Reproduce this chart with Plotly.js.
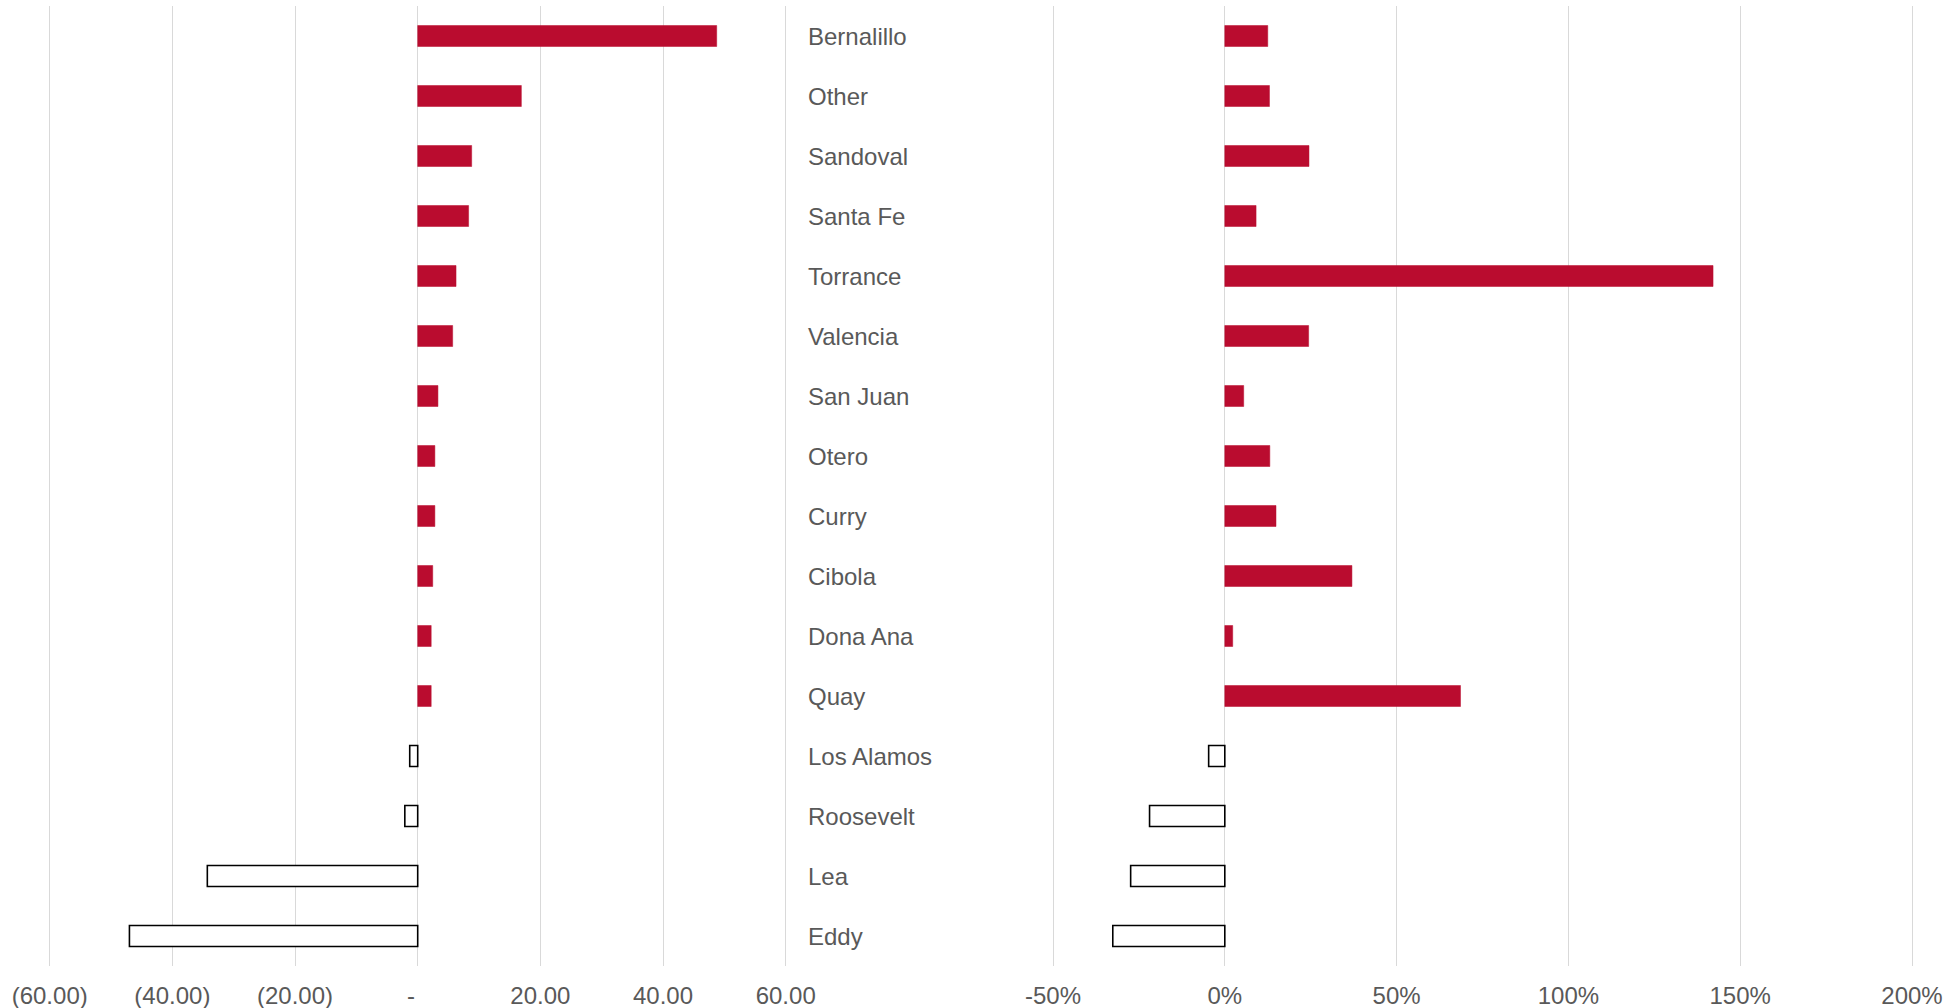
<!DOCTYPE html>
<html>
<head>
<meta charset="utf-8">
<script src="https://cdn.plot.ly/plotly-3.0.1.min.js"></script>
<style>html,body{margin:0;padding:0;background:#fff;}#chart{width:1959px;height:1008px;}</style>
</head>
<body>
<div id="chart"></div>
<script>
const counties = ["Bernalillo","Other","Sandoval","Santa Fe","Torrance","Valencia","San Juan","Otero","Curry","Cibola","Dona Ana","Quay","Los Alamos","Roosevelt","Lea","Eddy"];
const changeValues = [48.75, 16.9, 8.8, 8.3, 6.25, 5.7, 3.3, 2.8, 2.8, 2.45, 2.2, 2.2, -1.3, -2.1, -34.3, -47.0];
const pctValues = [0.125, 0.130, 0.245, 0.091, 1.421, 0.244, 0.055, 0.131, 0.149, 0.370, 0.023, 0.686, -0.047, -0.219, -0.274, -0.326];
const leftTickVals = [-60, -40, -20, 0, 20, 40, 60];
const leftTickText = ["(60.00)", "(40.00)", "(20.00)", "-\u00a0\u00a0", "20.00", "40.00", "60.00"];
const rightTickVals = [-0.5, 0, 0.5, 1.0, 1.5, 2.0];
const rightTickText = ["-50%", "0%", "50%", "100%", "150%", "200%"];

const RED = "#BA0C2F";
const fillFor = v => v >= 0 ? RED : "#FFFFFF";
const lineFor = v => v >= 0 ? RED : "#000000";

const traces = [
  {
    type: "bar", orientation: "h", x: changeValues, y: counties,
    xaxis: "x", yaxis: "y", width: 0.35,
    marker: {color: changeValues.map(fillFor), line: {color: changeValues.map(lineFor), width: changeValues.map(v => v >= 0 ? 0.5 : 1.6)}},
    hoverinfo: "x+y"
  },
  {
    type: "bar", orientation: "h", x: pctValues, y: counties,
    xaxis: "x2", yaxis: "y2", width: 0.35,
    marker: {color: pctValues.map(fillFor), line: {color: pctValues.map(lineFor), width: pctValues.map(v => v >= 0 ? 0.5 : 1.6)}},
    hoverinfo: "x+y"
  }
];

const tickFont = {family: "Liberation Sans, Arial, sans-serif", size: 24, color: "#595959"};

const annotations = counties.map(c => ({
  x: 806 / 1959, xref: "paper", y: c, yref: "y",
  text: c, showarrow: false, xanchor: "left", yanchor: "middle",
  font: tickFont
}));

// pixel scales: left 6.135 px/unit, right 343.6 px/unit
const padL = 0.5, padR = 0.01;
const layout = {
  width: 1959, height: 1008,
  margin: {l: 0, r: 0, t: 6, b: 42},
  paper_bgcolor: "#fff", plot_bgcolor: "#fff",
  showlegend: false,
  xaxis: {
    domain: [(49.7 - padL * 6.135) / 1959, (785.7 + padL * 6.135) / 1959], range: [-60 - padL, 60 + padL],
    tickvals: leftTickVals, ticktext: leftTickText,
    showgrid: true, gridcolor: "#d9d9d9", gridwidth: 1.3, zeroline: false,
    showline: false, ticks: "outside", ticklen: 8, tickcolor: "rgba(0,0,0,0)",
    tickfont: tickFont, fixedrange: true
  },
  yaxis: {
    type: "category", categoryorder: "array", categoryarray: counties,
    autorange: "reversed", showticklabels: false, showgrid: false, zeroline: false, fixedrange: true
  },
  xaxis2: {
    domain: [(1053 - padR * 343.6) / 1959, (1912 + padR * 343.6) / 1959], range: [-0.5 - padR, 2.0 + padR],
    tickvals: rightTickVals, ticktext: rightTickText,
    showgrid: true, gridcolor: "#d9d9d9", gridwidth: 1.3, zeroline: false,
    showline: false, ticks: "outside", ticklen: 8, tickcolor: "rgba(0,0,0,0)",
    tickfont: tickFont, anchor: "y2", fixedrange: true
  },
  yaxis2: {
    type: "category", categoryorder: "array", categoryarray: counties,
    autorange: "reversed", showticklabels: false, showgrid: false, zeroline: false,
    anchor: "x2", matches: "y", fixedrange: true
  },
  annotations: annotations
};

Plotly.newPlot("chart", traces, layout, {displayModeBar: false});
</script>
</body>
</html>
